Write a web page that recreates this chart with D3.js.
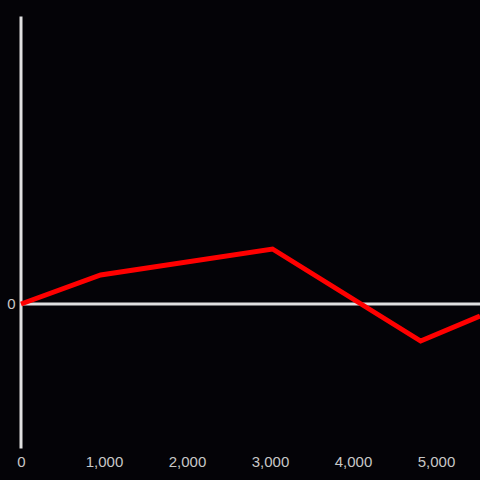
<!DOCTYPE html>
<html>
<head>
<meta charset="utf-8">
<script src="https://cdn.jsdelivr.net/npm/d3@7"></script>
<style>
  html, body { margin: 0; padding: 0; background: #040307; }
  #container { width: 480px; height: 480px; }
</style>
</head>
<body>
<div id="container"></div>
<script>
const width = 480, height = 480;

// Data
const xValues = [0, 960, 3030, 4815, 5530];
const yValues = [0, 29, 55, -37, -12];
const xTicks = [0, 1000, 2000, 3000, 4000, 5000];
const yTicks = [0];

const svg = d3.select("#container")
  .append("svg")
  .attr("width", width)
  .attr("height", height)
  .style("background", "#040307");

const x = d3.scaleLinear().domain([0, 5530]).range([21, 480]);
const y = d3.scaleLinear().domain([-144, 288]).range([448, 16]);

// Zero line
svg.append("line")
  .attr("x1", x(0)).attr("x2", width)
  .attr("y1", y(0)).attr("y2", y(0))
  .attr("stroke", "#e0e0e0")
  .attr("stroke-width", 3);

// Y axis
const yAxis = svg.append("g")
  .attr("transform", `translate(${x(0) - 0.5},0)`)
  .call(d3.axisLeft(y).tickValues(yTicks).tickSize(0).tickPadding(5).tickFormat(d3.format(",")));
yAxis.select(".domain").attr("stroke", "#e0e0e0").attr("stroke-width", 3);

// X tick labels along the bottom
const xAxis = svg.append("g")
  .attr("transform", `translate(0,${y(-144)})`)
  .call(d3.axisBottom(x).tickValues(xTicks).tickSize(0).tickPadding(8).tickFormat(d3.format(",")));
xAxis.select(".domain").remove();

for (const ax of [xAxis, yAxis]) {
  ax.selectAll("text")
    .attr("fill", "#c8c8c8")
    .style("font-family", "Liberation Sans, Arial, sans-serif")
    .style("font-size", "15px");
}

// Series line
const line = d3.line()
  .x((d, i) => x(xValues[i]))
  .y(d => y(d));

svg.append("path")
  .datum(yValues)
  .attr("fill", "none")
  .attr("stroke", "#ff0000")
  .attr("stroke-width", 5)
  .attr("stroke-linejoin", "miter")
  .attr("d", line);
</script>
</body>
</html>
